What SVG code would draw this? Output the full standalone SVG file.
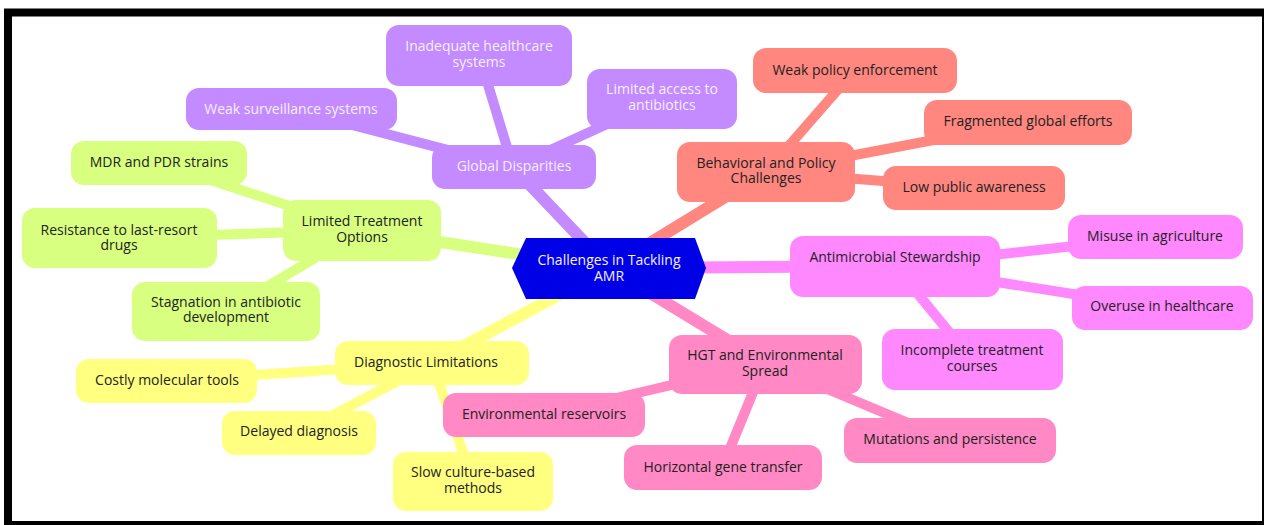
<svg xmlns="http://www.w3.org/2000/svg" width="1264" height="525" viewBox="0 0 1264 525">
<style>
text{font-family:"Open Sans","Noto Sans","Liberation Sans",sans-serif;font-size:14px;text-anchor:middle;fill:#222}
.w{fill:#f4f0ff}
.c line{stroke-linecap:round}
.s{stroke-width:10}
.m{stroke-width:12}
</style>
<rect x="0" y="0" width="1264" height="525" fill="#fff"/>
<rect x="8" y="12.5" width="1258" height="512.5" fill="none" stroke="#000" stroke-width="8"/>
<g class="c" id="connectors">
<g stroke="#c48aff">
<line class="m" x1="513" y1="167" x2="609" y2="268"/>
<line class="s" x1="479" y1="55" x2="513" y2="167"/>
<line class="s" x1="291" y1="109" x2="513" y2="167"/>
<line class="s" x1="662" y1="99" x2="513" y2="167"/>
</g>
<g stroke="#ff8780">
<line class="m" x1="766" y1="172" x2="609" y2="268"/>
<line class="s" x1="855" y1="70" x2="766" y2="172"/>
<line class="s" x1="1028" y1="122" x2="766" y2="172"/>
<line class="s" x1="974" y1="188" x2="766" y2="172"/>
</g>
<g stroke="#ff88ff">
<line class="m" x1="895" y1="266" x2="609" y2="268"/>
<line class="s" x1="1155" y1="237" x2="895" y2="266"/>
<line class="s" x1="1162" y1="308" x2="895" y2="266"/>
<line class="s" x1="972" y1="360" x2="895" y2="266"/>
</g>
<g stroke="#ff88c5">
<line class="m" x1="765" y1="363" x2="609" y2="268"/>
<line class="s" x1="544" y1="415" x2="765" y2="363"/>
<line class="s" x1="722" y1="468" x2="765" y2="363"/>
<line class="s" x1="949" y1="440" x2="765" y2="363"/>
</g>
<g stroke="#ffff80">
<line class="m" x1="432" y1="363" x2="609" y2="268"/>
<line class="s" x1="167" y1="381" x2="432" y2="363"/>
<line class="s" x1="299" y1="433" x2="432" y2="363"/>
<line class="s" x1="473" y1="481" x2="432" y2="363"/>
</g>
<g stroke="#d8ff80">
<line class="m" x1="362" y1="230" x2="609" y2="268"/>
<line class="s" x1="159" y1="163" x2="362" y2="230"/>
<line class="s" x1="119" y1="238" x2="362" y2="230"/>
<line class="s" x1="226" y1="311" x2="362" y2="230"/>
</g>
</g>
<g id="center">
<polygon points="512,268 526,238 695,238 706,268 695,299 526,299" fill="#0000e6"/>
<text class="w" x="609" y="265">Challenges in Tackling</text>
<text class="w" x="609" y="281">AMR</text>
</g>
<g id="global-disparities">
<rect x="432" y="145" width="164" height="44" rx="13" fill="#c48aff"/>
<text class="w" x="514" y="171">Global Disparities</text>
</g>
<g id="inadequate-healthcare">
<rect x="386" y="25" width="186" height="61" rx="13" fill="#c48aff"/>
<text class="w" x="479" y="51">Inadequate healthcare</text>
<text class="w" x="479" y="67">systems</text>
</g>
<g id="weak-surveillance">
<rect x="186" y="88" width="211" height="42" rx="13" fill="#c48aff"/>
<text class="w" x="291" y="114">Weak surveillance systems</text>
</g>
<g id="limited-access">
<rect x="587" y="69" width="150" height="60" rx="13" fill="#c48aff"/>
<text class="w" x="662" y="94">Limited access to</text>
<text class="w" x="662" y="110">antibiotics</text>
</g>
<g id="behavioral-policy">
<rect x="677" y="142" width="178" height="60" rx="13" fill="#ff8780"/>
<text x="766" y="168">Behavioral and Policy</text>
<text x="766" y="183">Challenges</text>
</g>
<g id="weak-policy">
<rect x="753" y="48" width="204" height="45" rx="13" fill="#ff8780"/>
<text x="855" y="75">Weak policy enforcement</text>
</g>
<g id="fragmented-efforts">
<rect x="924" y="100" width="208" height="45" rx="13" fill="#ff8780"/>
<text x="1028" y="126">Fragmented global efforts</text>
</g>
<g id="low-awareness">
<rect x="883" y="166" width="182" height="44" rx="13" fill="#ff8780"/>
<text x="974" y="192">Low public awareness</text>
</g>
<g id="antimicrobial-stewardship">
<rect x="790" y="236" width="210" height="61" rx="13" fill="#ff88ff"/>
<text x="895" y="262">Antimicrobial Stewardship</text>
</g>
<g id="misuse-agriculture">
<rect x="1068" y="215" width="175" height="44" rx="13" fill="#ff88ff"/>
<text x="1155" y="241">Misuse in agriculture</text>
</g>
<g id="overuse-healthcare">
<rect x="1072" y="286" width="181" height="44" rx="13" fill="#ff88ff"/>
<text x="1162" y="311">Overuse in healthcare</text>
</g>
<g id="incomplete-treatment">
<rect x="882" y="329" width="181" height="61" rx="13" fill="#ff88ff"/>
<text x="972" y="355">Incomplete treatment</text>
<text x="972" y="371">courses</text>
</g>
<g id="hgt-spread">
<rect x="669" y="335" width="193" height="59" rx="13" fill="#ff88c5"/>
<text x="765" y="360">HGT and Environmental</text>
<text x="765" y="376">Spread</text>
</g>
<g id="environmental-reservoirs">
<rect x="443" y="393" width="202" height="44" rx="13" fill="#ff88c5"/>
<text x="544" y="419">Environmental reservoirs</text>
</g>
<g id="horizontal-gene">
<rect x="624" y="445" width="198" height="45" rx="13" fill="#ff88c5"/>
<text x="723" y="472">Horizontal gene transfer</text>
</g>
<g id="mutations-persistence">
<rect x="844" y="418" width="212" height="45" rx="13" fill="#ff88c5"/>
<text x="950" y="444">Mutations and persistence</text>
</g>
<g id="diagnostic-limitations">
<rect x="335" y="341" width="194" height="44" rx="13" fill="#ffff80"/>
<text x="426" y="367">Diagnostic Limitations</text>
</g>
<g id="costly-tools">
<rect x="76" y="359" width="181" height="44" rx="13" fill="#ffff80"/>
<text x="167" y="385">Costly molecular tools</text>
</g>
<g id="delayed-diagnosis">
<rect x="222" y="411" width="154" height="44" rx="13" fill="#ffff80"/>
<text x="299" y="436">Delayed diagnosis</text>
</g>
<g id="slow-culture">
<rect x="393" y="452" width="160" height="59" rx="13" fill="#ffff80"/>
<text x="473" y="477">Slow culture-based</text>
<text x="473" y="493">methods</text>
</g>
<g id="limited-treatment">
<rect x="283" y="200" width="158" height="61" rx="13" fill="#d8ff80"/>
<text x="362" y="226">Limited Treatment</text>
<text x="362" y="242">Options</text>
</g>
<g id="mdr-pdr">
<rect x="71" y="141" width="176" height="44" rx="13" fill="#d8ff80"/>
<text x="159" y="167">MDR and PDR strains</text>
</g>
<g id="resistance-last-resort">
<rect x="22" y="208" width="195" height="60" rx="13" fill="#d8ff80"/>
<text x="119" y="235">Resistance to last-resort</text>
<text x="119" y="250">drugs</text>
</g>
<g id="stagnation">
<rect x="132" y="282" width="188" height="59" rx="13" fill="#d8ff80"/>
<text x="226" y="307">Stagnation in antibiotic</text>
<text x="226" y="322">development</text>
</g>
</svg>
